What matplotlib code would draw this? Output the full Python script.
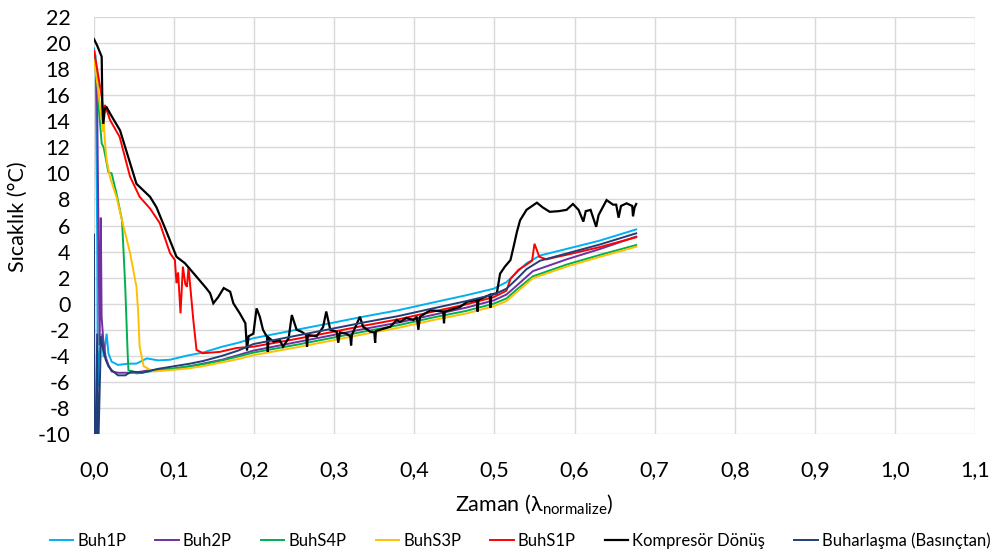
import matplotlib
matplotlib.use("Agg")
import matplotlib.pyplot as plt
from matplotlib.ticker import FuncFormatter, MultipleLocator

plt.rcParams['font.family'] = ['Lato', 'DejaVu Sans']
plt.rcParams['mathtext.fontset'] = 'custom'
plt.rcParams['mathtext.rm'] = 'Lato'

# ---------------- data ----------------
names = ["Buh1P", "Buh2P", "BuhS4P", "BuhS3P", "BuhS1P",
         "Kompresör Dönüş", "Buharlaşma (Basınçtan)"]
colors = ["#00B0F0", "#7030A0", "#00B050", "#FFC000", "#FF0000",
          "#000000", "#203F78"]

buh1p_x = [0.0, 0.002, 0.004, 0.0046, 0.006, 0.0096, 0.012, 0.0158, 0.018, 0.022,
           0.03, 0.043, 0.053, 0.066, 0.08, 0.095, 0.115, 0.136, 0.16, 0.18,
           0.199, 0.253, 0.295, 0.336, 0.38, 0.424, 0.465, 0.499, 0.515, 0.528,
           0.54, 0.557, 0.59, 0.632, 0.677]
buh1p_y = [19.6, 19.0, 5.0, -6.4, -4.3, -2.3, -4.1, -2.3, -3.8, -4.45,
           -4.7, -4.6, -4.6, -4.2, -4.35, -4.3, -4.0, -3.75, -3.3, -3.0,
           -2.65, -2.0, -1.5, -1.0, -0.5, 0.1, 0.65, 1.15, 1.65, 2.4,
           3.1, 3.7, 4.2, 4.85, 5.7]

buh2p_x = [0.0, 0.002, 0.004, 0.0055, 0.007, 0.0085, 0.0095, 0.0116, 0.0146, 0.018,
           0.022, 0.03, 0.05, 0.07, 0.1, 0.12, 0.14, 0.16, 0.18, 0.199,
           0.253, 0.295, 0.336, 0.38, 0.424, 0.465, 0.499, 0.515, 0.528, 0.548,
           0.59, 0.632, 0.677]
buh2p_y = [19.2, 18.5, 15.0, 6.0, -3.2, 6.6, -1.0, -2.8, -4.1, -4.7,
           -5.2, -5.3, -5.3, -5.1, -5.0, -4.8, -4.55, -4.3, -3.95, -3.6,
           -2.95, -2.45, -1.95, -1.45, -0.85, -0.3, 0.25, 0.7, 1.4, 2.5,
           3.4, 4.2, 5.15]

buhs4p_x = [0.0, 0.004, 0.006, 0.0096, 0.012, 0.018, 0.022, 0.028, 0.035, 0.039,
            0.042, 0.043, 0.053, 0.07, 0.095, 0.12, 0.14, 0.16, 0.18, 0.199,
            0.253, 0.295, 0.336, 0.38, 0.424, 0.465, 0.499, 0.515, 0.528, 0.548,
            0.59, 0.632, 0.677]
buhs4p_y = [19.0, 17.5, 15.0, 12.3, 12.0, 10.1, 10.0, 8.47, 6.4, 1.3,
            -3.8, -5.1, -5.35, -5.2, -5.0, -4.8, -4.6, -4.35, -4.05, -3.75,
            -3.15, -2.65, -2.15, -1.65, -1.05, -0.55, 0.0, 0.4, 1.1, 2.1,
            3.0, 3.75, 4.5]

buhs3p_x = [0.0, 0.005, 0.0096, 0.011, 0.012, 0.0137, 0.0158, 0.02, 0.028, 0.037,
            0.045, 0.053, 0.055, 0.057, 0.062, 0.074, 0.095, 0.12, 0.14, 0.16,
            0.18, 0.199, 0.253, 0.295, 0.336, 0.38, 0.424, 0.465, 0.499, 0.515,
            0.528, 0.548, 0.59, 0.632, 0.677]
buhs3p_y = [18.7, 16.5, 14.1, 13.2, 14.0, 12.4, 11.0, 9.7, 8.2, 5.9,
            3.9, 1.3, -0.5, -3.3, -4.8, -5.2, -5.1, -4.95, -4.75, -4.5,
            -4.25, -3.95, -3.35, -2.85, -2.35, -1.85, -1.25, -0.75, -0.2, 0.2,
            0.9, 1.95, 2.85, 3.6, 4.37]

buhs1p_x = [0.0, 0.004, 0.0096, 0.0116, 0.0137, 0.02, 0.032, 0.045, 0.057, 0.07,
            0.082, 0.095, 0.101, 0.103, 0.105, 0.108, 0.111, 0.114, 0.116, 0.118,
            0.124, 0.128, 0.136, 0.157, 0.178, 0.199, 0.253, 0.295, 0.336, 0.38,
            0.424, 0.465, 0.499, 0.515, 0.52, 0.53, 0.54, 0.547, 0.55, 0.553,
            0.556, 0.565, 0.575, 0.59, 0.632, 0.677]
buhs1p_y = [19.4, 18.0, 15.9, 14.6, 15.25, 14.1, 12.8, 9.75, 8.2, 7.3,
            6.2, 3.87, 3.35, 1.57, 2.4, -0.74, 2.84, 1.5, 1.3, 2.8,
            -1.25, -3.55, -3.8, -3.7, -3.4, -3.3, -2.7, -2.2, -1.7, -1.2,
            -0.6, -0.05, 0.5, 1.0, 1.9, 2.6, 3.0, 3.3, 4.6, 4.1,
            3.6, 3.4, 3.55, 3.75, 4.35, 5.1]

komp_x = [0.0, 0.004, 0.0096, 0.0105, 0.0116, 0.0137, 0.0158, 0.02, 0.0325, 0.045,
          0.053, 0.07, 0.078, 0.09, 0.103, 0.1136, 0.128, 0.14, 0.145, 0.149,
          0.155, 0.162, 0.17, 0.174, 0.182, 0.189, 0.19, 0.191, 0.193, 0.199,
          0.203, 0.207, 0.211, 0.216, 0.217, 0.218, 0.224, 0.232, 0.236, 0.243,
          0.247, 0.253, 0.259, 0.265, 0.266, 0.267, 0.278, 0.286, 0.29, 0.295,
          0.303, 0.305, 0.307, 0.315, 0.32, 0.321, 0.322, 0.332, 0.336, 0.345,
          0.35, 0.351, 0.352, 0.357, 0.37, 0.378, 0.382, 0.39, 0.399, 0.403,
          0.405, 0.407, 0.42, 0.436, 0.437, 0.438, 0.457, 0.466, 0.478, 0.479,
          0.48, 0.494, 0.495, 0.496, 0.503, 0.507, 0.513, 0.52, 0.524, 0.528,
          0.532, 0.54, 0.547, 0.553, 0.56, 0.569, 0.58, 0.59, 0.598, 0.605,
          0.611, 0.614, 0.62, 0.627, 0.63, 0.64, 0.648, 0.652, 0.655, 0.658,
          0.665, 0.672, 0.673, 0.675, 0.677]
komp_y = [20.3, 19.8, 18.95, 15.0, 13.8, 15.0, 15.07, 14.6, 13.3, 10.8,
          9.2, 8.2, 7.4, 5.6, 3.6, 3.1, 2.07, 1.2, 0.8, 0.03,
          0.5, 1.2, 0.92, 0.03, -0.74, -1.5, -2.5, -3.6, -2.5, -2.3,
          -0.36, -1.0, -2.0, -2.55, -3.7, -2.6, -2.9, -2.8, -3.3, -2.65,
          -0.87, -2.0, -2.15, -2.4, -3.3, -2.4, -2.5, -1.8, -0.6, -2.0,
          -2.15, -3.0, -2.2, -2.3, -2.5, -3.2, -2.4, -1.0, -1.77, -2.15,
          -2.2, -3.0, -2.1, -2.0, -1.77, -1.25, -1.4, -1.1, -1.25, -1.0,
          -2.0, -1.0, -0.5, -0.6, -1.5, -0.6, -0.25, 0.15, 0.28, -0.6,
          0.3, 0.67, -0.3, 0.7, 0.8, 2.3, 2.84, 3.35, 4.4, 5.5,
          6.4, 7.2, 7.5, 7.75, 7.4, 7.05, 7.1, 7.2, 7.65, 7.2,
          6.3, 7.1, 7.2, 5.9, 6.8, 7.95, 7.6, 7.6, 6.6, 7.5,
          7.7, 7.5, 6.7, 7.4, 7.65]

buhar_x = [0.0, 0.0005, 0.002, 0.004, 0.005, 0.0087, 0.0116, 0.0146, 0.018, 0.022,
           0.03, 0.039, 0.047, 0.06, 0.08, 0.1, 0.12, 0.136, 0.16, 0.18,
           0.199, 0.253, 0.295, 0.336, 0.38, 0.424, 0.465, 0.499, 0.515, 0.528,
           0.54, 0.557, 0.59, 0.632, 0.677]
buhar_y = [5.3, -12.0, -12.0, -2.3, -12.0, -2.5, -3.55, -4.3, -4.8, -5.1,
           -5.5, -5.5, -5.2, -5.3, -5.0, -4.8, -4.6, -4.4, -4.0, -3.6,
           -3.1, -2.45, -1.95, -1.45, -0.95, -0.35, 0.2, 0.7, 1.15, 1.9,
           2.65, 3.3, 3.85, 4.55, 5.4]

series_x = [buh1p_x, buh2p_x, buhs4p_x, buhs3p_x, buhs1p_x, komp_x, buhar_x]
series_y = [buh1p_y, buh2p_y, buhs4p_y, buhs3p_y, buhs1p_y, komp_y, buhar_y]

x_ticks = [0.0, 0.1, 0.2, 0.3, 0.4, 0.5, 0.6, 0.7, 0.8, 0.9, 1.0, 1.1]
y_ticks = list(range(-10, 23, 2))

# ---------------- figure ----------------
fig = plt.figure(figsize=(9.92, 5.56), dpi=100)
ax = fig.add_axes([94 / 992, 1 - 434 / 556, (975 - 94) / 992, (434 - 17) / 556])

for xs, ys, c, n in zip(series_x, series_y, colors, names):
    lw = 1.6 if c == "#000000" else 1.4
    ax.plot(xs, ys, color=c, lw=lw, label=n, solid_joinstyle='miter')

ax.set_xlim(x_ticks[0], x_ticks[-1])
ax.set_ylim(y_ticks[0], y_ticks[-1])
ax.set_xticks(x_ticks)
ax.set_yticks(y_ticks)
ax.xaxis.set_major_formatter(FuncFormatter(lambda v, p: f"{v:.1f}".replace('.', ',')))
ax.yaxis.set_major_formatter(FuncFormatter(lambda v, p: f"{v:.0f}"))
ax.grid(True, color="#d9d9d9", lw=1.0)
ax.set_axisbelow(True)
for s in ax.spines.values():
    s.set_visible(False)
ax.tick_params(axis='both', length=0, labelsize=15.5, colors='#000000')
ax.tick_params(axis='x', pad=19)
ax.tick_params(axis='y', pad=17)

ax.set_xlabel("Zaman (λ$_{\\mathregular{normalize}}$)", fontsize=15.5)
ax.xaxis.set_label_coords(0.5, -0.14)
ax.set_ylabel("Sıcaklık (°C)", fontsize=15.5)
ax.yaxis.set_label_coords(-0.075, 0.52)

fig.legend(loc='center', bbox_to_anchor=(520 / 992, 1 - 541 / 556), ncol=7,
           frameon=False, fontsize=12, handlelength=1.4, handletextpad=0.25,
           columnspacing=1.75, borderaxespad=0)

fig.savefig("out.png", dpi=100)
